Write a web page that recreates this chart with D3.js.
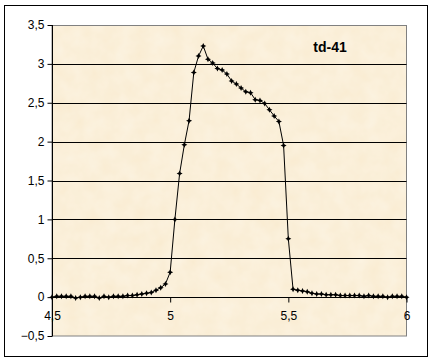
<!DOCTYPE html>
<html>
<head>
<meta charset="utf-8">
<script src="https://cdn.jsdelivr.net/npm/d3@7"></script>
<style>
  body { margin: 0; background: #fff; }
  svg { display: block; }
</style>
</head>
<body>
<div id="graph"></div>
<script>
//Data
const xValues = [4.50, 4.52, 4.54, 4.56, 4.58, 4.60, 4.62, 4.64, 4.66, 4.68,
                 4.70, 4.72, 4.74, 4.76, 4.78, 4.80, 4.82, 4.84, 4.86, 4.88,
                 4.90, 4.92, 4.94, 4.96, 4.98, 5.00, 5.02, 5.04, 5.06, 5.08,
                 5.10, 5.12, 5.14, 5.16, 5.18, 5.20, 5.22, 5.24, 5.26, 5.28,
                 5.30, 5.32, 5.34, 5.36, 5.38, 5.40, 5.42, 5.44, 5.46, 5.48,
                 5.50, 5.52, 5.54, 5.56, 5.58, 5.60, 5.62, 5.64, 5.66, 5.68,
                 5.70, 5.72, 5.74, 5.76, 5.78, 5.80, 5.82, 5.84, 5.86, 5.88,
                 5.90, 5.92, 5.94, 5.96, 5.98, 6.00];
const yValues = [0.00, 0.01, 0.01, 0.01, 0.01, -0.01, 0.00, 0.01, 0.01, 0.01,
                 -0.01, 0.01, 0.00, 0.01, 0.01, 0.01, 0.02, 0.02, 0.03, 0.04,
                 0.05, 0.06, 0.09, 0.12, 0.17, 0.32, 1.00, 1.59, 1.96, 2.27,
                 2.89, 3.10, 3.23, 3.06, 3.01, 2.94, 2.92, 2.87, 2.78, 2.74,
                 2.69, 2.64, 2.63, 2.54, 2.53, 2.49, 2.41, 2.33, 2.26, 1.95,
                 0.75, 0.10, 0.09, 0.08, 0.07, 0.05, 0.04, 0.04, 0.03, 0.03,
                 0.03, 0.02, 0.02, 0.02, 0.02, 0.02, 0.01, 0.02, 0.01, 0.01,
                 0.01, 0.00, 0.01, 0.01, 0.01, 0.00];
const xTicks = [4.5, 5, 5.5, 6];
const yTicks = [-0.5, 0, 0.5, 1, 1.5, 2, 2.5, 3, 3.5];
const seriesName = "td-41";

const data = xValues.map((x, i) => ({x: x, y: yValues[i]}));

//Display specifications
const W = 433, H = 363;
const plot = {left: 52, top: 25, right: 406.5, bottom: 336};

//Comma decimal format
const fmt = d3.formatLocale({decimal: ",", thousands: " ", grouping: [3], currency: ["", ""]}).format("~g");

const svg = d3.select("#graph")
   .append("svg")
   .attr("width", W)
   .attr("height", H);

//Paper texture
const defs = svg.append("defs");
const filt = defs.append("filter").attr("id", "paper")
   .attr("x", 0).attr("y", 0).attr("width", 1).attr("height", 1);
filt.append("feTurbulence").attr("type", "fractalNoise")
   .attr("baseFrequency", 0.06).attr("numOctaves", 3).attr("seed", 4).attr("result", "n");
filt.append("feColorMatrix").attr("in", "n").attr("type", "matrix")
   .attr("values", "0 0 0 0 1  0 0 0 0 0.97  0 0 0 0 0.90  0 0 0 0.5 0")
   .attr("result", "c");
filt.append("feComposite").attr("in", "c").attr("in2", "SourceGraphic").attr("operator", "in");

//Outer frame
svg.append("rect")
   .attr("x", 4.5).attr("y", 5.5)
   .attr("width", 423).attr("height", 351)
   .attr("fill", "#fff")
   .attr("stroke", "#000")
   .attr("stroke-width", 1);

//Scales
const x = d3.scaleLinear().domain([4.5, 6]).range([plot.left, plot.right]);
const y = d3.scaleLinear().domain([-0.5, 3.5]).range([plot.bottom, plot.top]);

//Plot area
svg.append("rect")
   .attr("x", plot.left).attr("y", plot.top)
   .attr("width", plot.right - plot.left).attr("height", plot.bottom - plot.top)
   .attr("fill", "#f9ebd0");
svg.append("rect")
   .attr("x", plot.left).attr("y", plot.top)
   .attr("width", plot.right - plot.left).attr("height", plot.bottom - plot.top)
   .attr("fill", "#fff")
   .attr("filter", "url(#paper)");
svg.append("rect")
   .attr("x", plot.left).attr("y", plot.top + 0.5)
   .attr("width", plot.right - plot.left).attr("height", plot.bottom - plot.top - 0.5)
   .attr("fill", "none")
   .attr("stroke", "#808080")
   .attr("stroke-width", 1);

//Gridlines
svg.append("g")
   .selectAll("line")
   .data(yTicks.filter(d => d > 0 && d < 3.5))
   .enter()
   .append("line")
   .attr("x1", plot.left).attr("x2", plot.right)
   .attr("y1", d => Math.round(y(d)) + 0.5).attr("y2", d => Math.round(y(d)) + 0.5)
   .attr("stroke", "#000")
   .attr("stroke-width", 1);

//Y axis
const yAxis = svg.append("g")
   .attr("transform", "translate(" + (plot.left + 0.5) + ",0)")
   .call(d3.axisLeft(y).tickValues(yTicks).tickFormat(fmt).tickSize(5).tickPadding(3)
         .offset(0.5));
yAxis.select(".domain").attr("d", "M0," + plot.top + "V" + plot.bottom);

//X axis at zero
const xAxis = svg.append("g")
   .attr("transform", "translate(0," + (Math.round(y(0)) + 0.5) + ")")
   .call(d3.axisBottom(x).tickValues(xTicks).tickFormat(fmt).tickSize(5).tickPadding(9)
         .offset(0.5));
xAxis.select(".domain").attr("d", "M" + plot.left + ",0H" + plot.right);

svg.selectAll(".tick text")
   .attr("font-family", "Liberation Sans, Arial, sans-serif")
   .attr("font-size", 12)
   .attr("fill", "#000");
svg.selectAll(".domain, .tick line").attr("stroke", "#000");

//Series line
const line = d3.line()
   .x(d => x(d.x))
   .y(d => y(d.y));

svg.append("path")
   .datum(data)
   .attr("fill", "none")
   .attr("stroke", "#000")
   .attr("stroke-width", 1)
   .attr("stroke-linejoin", "round")
   .attr("d", line);

//Markers
svg.append("g")
   .selectAll("path")
   .data(data)
   .enter()
   .append("path")
   .attr("transform", d => "translate(" + x(d.x) + "," + y(d.y) + ")")
   .attr("d", "M0,-3L1,-1L3,0L1,1L0,3L-1,1L-3,0L-1,-1Z")
   .attr("fill", "#000");

//Series label
svg.append("text")
   .attr("x", 330)
   .attr("y", 52)
   .attr("text-anchor", "middle")
   .attr("font-family", "Liberation Sans, Arial, sans-serif")
   .attr("font-weight", "bold")
   .attr("font-size", 14)
   .text(seriesName);
</script>
</body>
</html>
